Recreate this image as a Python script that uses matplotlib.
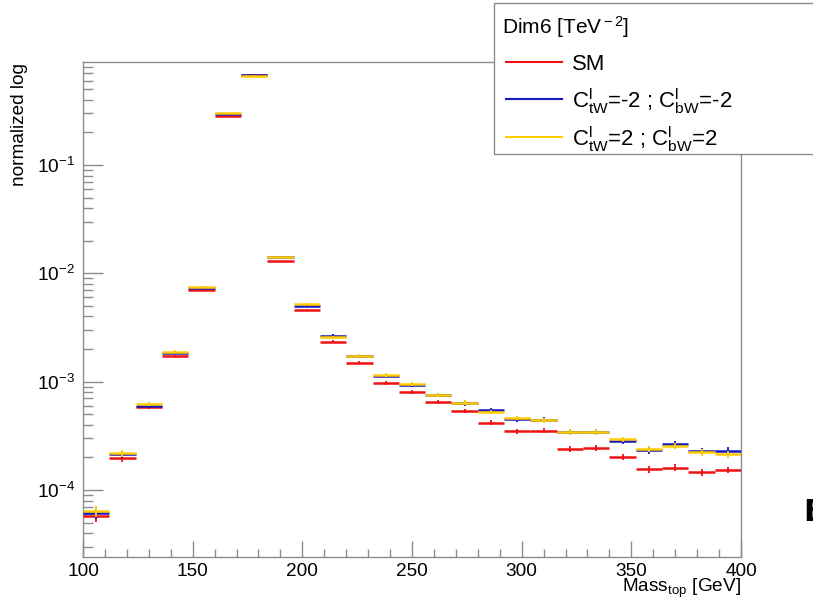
import matplotlib
matplotlib.use("Agg")
import matplotlib.pyplot as plt
from matplotlib.patches import Rectangle
from matplotlib.lines import Line2D
from matplotlib.ticker import LogLocator, MultipleLocator, LogFormatterSciNotation
import numpy as np

plt.rcParams['font.family'] = ['Liberation Sans', 'DejaVu Sans']
plt.rcParams['mathtext.fontset'] = 'custom'
plt.rcParams['mathtext.rm'] = 'Liberation Sans'
plt.rcParams['mathtext.it'] = 'Liberation Sans:italic'
plt.rcParams['mathtext.bf'] = 'Liberation Sans:bold'

# ---- data ----
bin_low = [100, 112, 124, 136, 148, 160, 172, 184, 196, 208, 220, 232, 244,
           256, 268, 280, 292, 304, 316, 328, 340, 352, 364, 376, 388]
bin_width = 12

sm = [5.75e-5, 1.96e-4, 5.8e-4, 1.73e-3, 7.08e-3, 0.286, 0.684, 1.29e-2,
      4.59e-3, 2.34e-3, 1.50e-3, 9.8e-4, 8.09e-4, 6.45e-4, 5.36e-4, 4.18e-4,
      3.48e-4, 3.53e-4, 2.39e-4, 2.46e-4, 2.03e-4, 1.55e-4, 1.61e-4, 1.46e-4,
      1.53e-4]
neg2 = [6.1e-5, 2.14e-4, 6.0e-4, 1.84e-3, 7.3e-3, 0.293, 0.675, 1.41e-2,
        5.04e-3, 2.66e-3, 1.72e-3, 1.14e-3, 9.27e-4, 7.5e-4, 6.3e-4, 5.5e-4,
        4.5e-4, 4.47e-4, 3.45e-4, 3.42e-4, 2.85e-4, 2.32e-4, 2.66e-4, 2.29e-4,
        2.31e-4]
pos2 = [6.4e-5, 2.18e-4, 6.26e-4, 1.9e-3, 7.5e-3, 0.30, 0.67, 1.43e-2,
        5.19e-3, 2.57e-3, 1.74e-3, 1.15e-3, 9.5e-4, 7.55e-4, 6.4e-4, 5.25e-4,
        4.62e-4, 4.4e-4, 3.45e-4, 3.45e-4, 2.94e-4, 2.40e-4, 2.55e-4, 2.24e-4,
        2.14e-4]
rel_err = [0.12, 0.07, 0.04, 0.03, 0.015, 0.005, 0.004, 0.015, 0.02, 0.03,
           0.035, 0.04, 0.04, 0.04, 0.05, 0.05, 0.05, 0.05, 0.06, 0.06, 0.06,
           0.07, 0.07, 0.07, 0.07]

series = [
    ("SM", sm, "#ee1111"),
    (r"C$^{\rm l}_{\rm tW}$=-2 ; C$^{\rm l}_{\rm bW}$=-2", neg2, "#1717c0"),
    (r"C$^{\rm l}_{\rm tW}$=2 ; C$^{\rm l}_{\rm bW}$=2", pos2, "#ffcc00"),
]

W, H = 813, 602
fig = plt.figure(figsize=(W / 100, H / 100), dpi=100)
L, R, T, B = 83, 741, 62, 557
ax = fig.add_axes([L / W, 1 - B / H, (R - L) / W, (B - T) / H])

x_lo = np.array(bin_low, dtype=float)
x_c = x_lo + bin_width / 2
for name, vals, col in series:
    v = np.array(vals)
    e = v * np.array(rel_err)
    ax.hlines(v, x_lo, x_lo + bin_width, colors=col, linewidth=1.8, zorder=3)
    ax.vlines(x_c, v - e, v + e, colors=col, linewidth=1.3, zorder=3)

ax.set_yscale('log')
ax.set_xlim(100, 400)
ax.set_ylim(2.41e-5, 0.893)

frame_col = '#8c8c8c'
for s in ax.spines.values():
    s.set_color(frame_col)
    s.set_linewidth(1.0)

ax.xaxis.set_major_locator(MultipleLocator(50))
ax.xaxis.set_minor_locator(MultipleLocator(10))
ax.yaxis.set_major_locator(LogLocator(base=10, numticks=10))
ax.yaxis.set_minor_locator(LogLocator(base=10, subs=np.arange(2, 10), numticks=20))
ax.yaxis.set_major_formatter(LogFormatterSciNotation())
ax.yaxis.set_minor_formatter(plt.NullFormatter())

fs = 13.7
ax.tick_params(axis='both', which='both', direction='in', color=frame_col,
               top=False, right=False, labelsize=fs, width=1.0)
ax.tick_params(axis='y', which='major', length=14.4, pad=6)
ax.tick_params(axis='y', which='minor', length=7.2)
ax.tick_params(axis='x', which='major', length=11.5, pad=4)
ax.tick_params(axis='x', which='minor', length=5.8)

fig.text(20 / W, 1 - 63 / H, "normalized log", rotation=90, ha='center',
         va='top', fontsize=fs)
fig.text(741 / W, 1 - 592 / H, r"Mass$_{\rm top}$ [GeV]", ha='right',
         va='baseline', fontsize=fs)

# legend box
lx0, ly0, ly1 = 494, 3, 154
fig.patches.append(Rectangle((lx0 / W, 1 - ly1 / H), (W + 20 - lx0) / W,
                             (ly1 - ly0) / H, transform=fig.transFigure,
                             facecolor='white', edgecolor=frame_col,
                             linewidth=1.0, zorder=5))
fig.text(502 / W, 1 - 27 / H, r"Dim6 [TeV$^{\rm -2}$]", ha='left',
         va='center', fontsize=fs + 1.3, zorder=6)
entry_y = [62, 99, 137]
for (name, vals, col), yy in zip(series, entry_y):
    fig.lines.append(Line2D([506 / W, 562 / W], [1 - yy / H, 1 - yy / H],
                            transform=fig.transFigure, color=col,
                            linewidth=1.5, zorder=6))
    fig.text(572 / W, 1 - (yy + 2) / H, name, ha='left', va='center',
             fontsize=fs + 2.2, zorder=6)

fig.text(803 / W, 1 - 521 / H, "B", ha='left', va='baseline', fontsize=22,
         fontweight='bold', family='DejaVu Sans', color='black')

fig.savefig("out.png", dpi=100)
